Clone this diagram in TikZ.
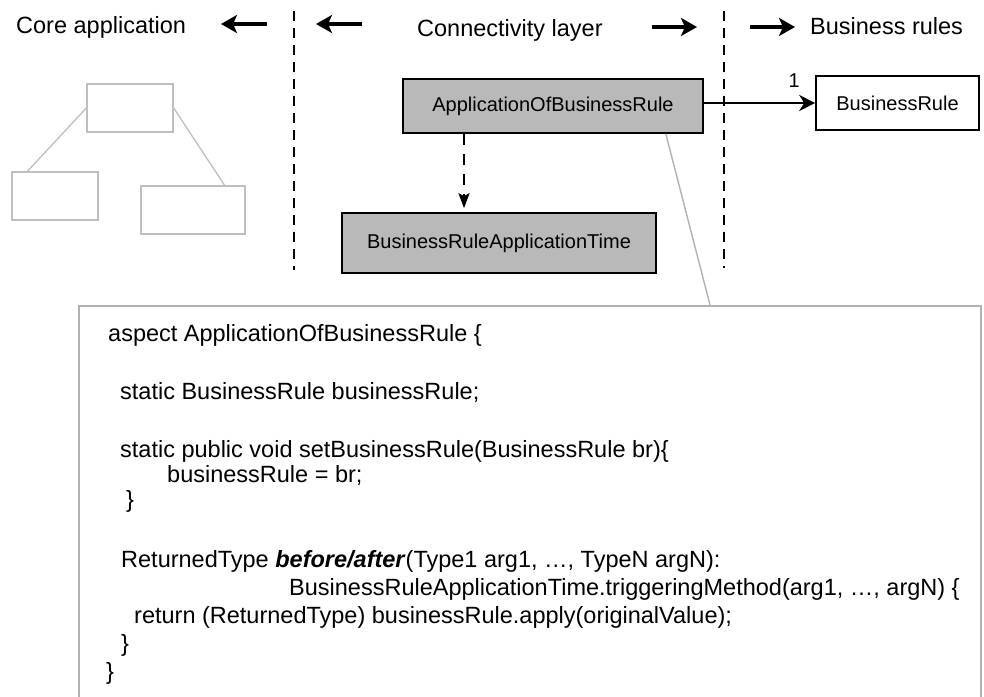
\documentclass[tikz,border=0pt]{standalone}
\usepackage{fontspec}
\setmainfont{Liberation Sans}
\usetikzlibrary{arrows.meta}

\tikzset{
  hdr/.style={anchor=base west, inner sep=0pt, font=\fontsize{23.5pt}{28pt}\selectfont},
  codeline/.style={anchor=base west, inner sep=0pt, font=\fontsize{23.5pt}{28pt}\selectfont},
  umlbox/.style={draw=black, line width=1.6pt, fill=gray!55, inner sep=0pt,
    font=\fontsize{20pt}{24pt}\selectfont},
  plainbox/.style={draw=black, line width=1.6pt, fill=white, inner sep=0pt,
    font=\fontsize{20pt}{24pt}\selectfont},
  faintbox/.style={draw=black!25, line width=1.3pt, inner sep=0pt},
  faintline/.style={draw=black!25, line width=1.3pt},
  bigarrow/.style={line width=4.5pt, -{Stealth[length=16pt,width=18pt,inset=4pt]}},
  divider/.style={line width=1.6pt, dash pattern=on 10pt off 7pt},
  dep/.style={line width=2pt, dash pattern=on 11pt off 9pt,
    -{Stealth[length=15pt,width=11pt,inset=3pt]}},
  assoc/.style={line width=1.6pt, -{Stealth[length=16pt,width=16pt,inset=5pt]}},
  callout/.style={draw=black!30, line width=1.4pt},
  codebox/.style={draw=black!30, line width=1.6pt, inner sep=0pt}
}

\begin{document}
\begin{tikzpicture}[x=1pt,y=-1pt]
\useasboundingbox[fill=white] (0,0) rectangle (984,696);

% layer headings
\node[hdr] (hcore) at (16,33) {Core application};
\node[hdr] (hconn) at (417,36) {Connectivity layer};
\node[hdr] (hrules) at (810,34) {Business rules};

% heading arrows
\coordinate (a1s) at (267,24); \coordinate (a1e) at (221,24);
\coordinate (a2s) at (362,24); \coordinate (a2e) at (316,24);
\coordinate (a3s) at (652,27); \coordinate (a3e) at (697,27);
\coordinate (a4s) at (750,27); \coordinate (a4e) at (795,27);
\draw[bigarrow] (a1s) -- (a1e);
\draw[bigarrow] (a2s) -- (a2e);
\draw[bigarrow] (a3s) -- (a3e);
\draw[bigarrow] (a4s) -- (a4e);

% layer dividers
\coordinate (d1t) at (294,11); \coordinate (d1b) at (294,270);
\coordinate (d2t) at (724,11); \coordinate (d2b) at (724,268);
\draw[divider] (d1t) -- (d1b);
\draw[divider] (d2t) -- (d2b);

% core application sketch
\node[faintbox, minimum width=86pt, minimum height=48pt] (ctop) at (130,108) {};
\node[faintbox, minimum width=86pt, minimum height=48pt] (cleft) at (55,196) {};
\node[faintbox, minimum width=104pt, minimum height=48pt] (cright) at (193,210) {};
\draw[faintline] (ctop.west) -- ([xshift=16pt]cleft.north west);
\draw[faintline] (ctop.east) -- ([xshift=-21pt]cright.north east);

% connectivity layer classes
\node[umlbox, minimum width=300pt, minimum height=54pt] (app) at (553,106) {ApplicationOfBusinessRule};
\node[umlbox, minimum width=314pt, minimum height=60pt] (brat) at (499,243) {BusinessRuleApplicationTime};

% business rules class
\node[plainbox, minimum width=163pt, minimum height=54pt] (br) at (897.5,103) {BusinessRule};

% associations
\coordinate (dx) at (464,0);
\draw[dep] (app.south -| dx) -- ([yshift=4pt]brat.north -| dx);
\draw[assoc] (app.east |- br.west) -- (br.west);
\node[inner sep=0pt, font=\fontsize{20pt}{22pt}\selectfont] (mult) at ([xshift=-21pt,yshift=22pt]br.west) {1};

% aspect source
\node[codebox, minimum width=902pt, minimum height=400pt, anchor=north west] (code) at (78,305) {};
\draw[callout] ([xshift=-38pt]app.south east) -- ([xshift=632pt]code.north west);

\node[codeline] (c1) at (108,341) {aspect ApplicationOfBusinessRule \{};
\node[codeline] (c2) at (120,399) {static BusinessRule businessRule;};
\node[codeline] (c3) at (120,457) {static public void setBusinessRule(BusinessRule br)\{};
\node[codeline] (c4) at (167,482) {businessRule = br;};
\node[codeline] (c5) at (126,507) {\}};
\node[codeline] (c6) at (121,567) {ReturnedType \textbf{\textit{before/after}}(Type1 arg1, …, TypeN argN):};
\node[codeline] (c7) at (289,595) {BusinessRuleApplicationTime.triggeringMethod(arg1, …, argN) \{};
\node[codeline] (c8) at (134,623) {return (ReturnedType) businessRule.apply(originalValue);};
\node[codeline] (c9) at (121,651) {\}};
\node[codeline] (c10) at (106,679) {\}};
\end{tikzpicture}
\end{document}
